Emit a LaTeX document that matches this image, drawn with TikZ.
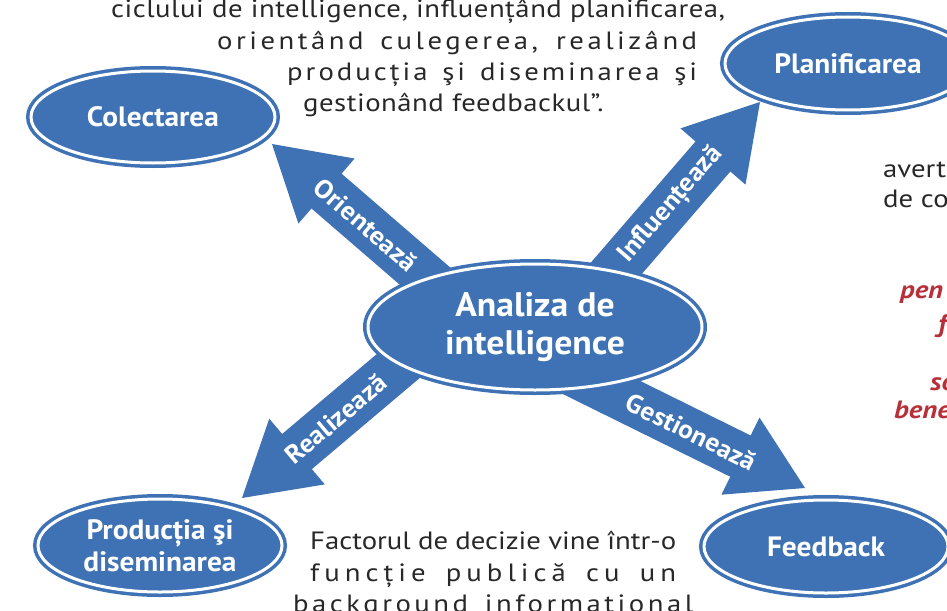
\documentclass[tikz,border=0pt]{standalone}
\usepackage{fontspec}
\setmainfont{PT Sans}[FakeStretch=1.15]
\newfontfamily\labfont{PT Sans}[FakeStretch=1.05]
\usetikzlibrary{shapes.geometric,calc}
\pgfdeclarelayer{bg}
\pgfsetlayers{bg,main}
\definecolor{dblue}{RGB}{62,114,180}
\definecolor{tgray}{RGB}{40,40,40}
\definecolor{tred}{RGB}{183,47,56}
\tikzset{
  ell/.style={ellipse, fill=dblue, draw=dblue, double=white, double distance=3pt,
    line width=3.5pt, inner sep=0pt, text=white, align=center,
    font=\labfont\bfseries\fontsize{28}{32}\selectfont},
  lbl/.style={text=white, font=\labfont\bfseries\fontsize{26}{26}\selectfont, sloped, inner sep=0pt},
  txt/.style={text=tgray, font=\fontsize{25}{30}\selectfont, inner sep=0pt, anchor=base west},
  rtxt/.style={text=tred, font=\bfseries\itshape\fontsize{25}{30}\selectfont, inner sep=0pt, anchor=base west},
}
\newcommand\myfatarrow[4]{%
  \path ($(#2)!72pt!(#1)$) coordinate (fa-b);
  \fill[dblue] ($(#1)!23pt!90:(#2)$) -- ($(fa-b)!23pt!90:(#2)$) -- ($(fa-b)!43pt!90:(#2)$)
    -- (#2) -- ($(fa-b)!43pt!-90:(#2)$) -- ($(fa-b)!23pt!-90:(#2)$) -- ($(#1)!23pt!-90:(#2)$) -- cycle;
  \path (fa-b) -- ($(fa-b)!#3!(#1)$) node[midway, lbl] {#4};
}
\begin{document}
\begin{tikzpicture}[x=1pt, y=-1pt]
\useasboundingbox (0,0) rectangle (947,610);

% ellipses
\node[ell, minimum width=334pt, minimum height=126pt, font=\labfont\bfseries\fontsize{34}{38}\selectfont] (cen) at (535,327) {Analiza de\\intelligence};
\node[ell, minimum width=244pt, minimum height=92pt] (col) at (153,117) {Colectarea};
\node[ell, minimum width=246pt, minimum height=93pt] (pla) at (848,63.5) {Planificarea};
\node[ell, minimum width=244pt, minimum height=93pt] (pro) at (160,545.5) {Producția şi\\diseminarea};
\node[ell, minimum width=244pt, minimum height=93pt] (fee) at (826,546.5) {Feedback};

% arrow ends
\coordinate (sO) at ($(cen.center)+(-80,-25)$);
\coordinate (tO) at (272,144);
\coordinate (sI) at ($(cen.center)+(47,-19)$);
\coordinate (tI) at (760,102);
\coordinate (sR) at ($(cen.center)+(-100,8)$);
\coordinate (tR) at (242,498);
\coordinate (sG) at ($(cen.center)+(25,40)$);
\coordinate (tG) at (805,488);

\begin{pgfonlayer}{bg}
\myfatarrow{sO}{tO}{104pt}{Orientează}
\myfatarrow{sI}{tI}{128pt}{Influențează}
\myfatarrow{sR}{tR}{102pt}{Realizează}
\myfatarrow{sG}{tG}{109pt}{Gestionează}
\end{pgfonlayer}

% top paragraph
\node[txt] (t1) at (111,18) {\makebox[614pt][s]{\addfontfeature{LetterSpace=2}ciclului de intelligence, influențând planificarea,}};
\node[txt] (t2) at (217,50) {\makebox[480pt][s]{\addfontfeature{LetterSpace=14}orientând culegerea, realizând}};
\node[txt] (t3) at (287,81) {\makebox[410pt][s]{\addfontfeature{LetterSpace=12}producția şi diseminarea şi}};
\node[txt] (t4) at (303,111) {\addfontfeature{LetterSpace=2}gestionând feedbackul”.};

% bottom paragraph
\node[txt] (b1) at (310,549) {\makebox[366pt][s]{Factorul de decizie vine într-o}};
\node[txt] (b2) at (310,581) {\makebox[366pt][s]{\addfontfeature{LetterSpace=20}funcție publică cu un}};
\node[txt] (b3) at (293,612) {\makebox[400pt][s]{\addfontfeature{LetterSpace=14}background informational}};

% right side
\node[txt] (r1) at (883,177) {avert};
\node[txt] (r2) at (883,207) {de co};
\node[rtxt] (r3) at (900,298) {pen};
\node[rtxt] (r4) at (938,332) {f};
\node[rtxt] (r5) at (930,390) {so};
\node[rtxt] (r6) at (894,418) {bene};
\end{tikzpicture}
\end{document}
